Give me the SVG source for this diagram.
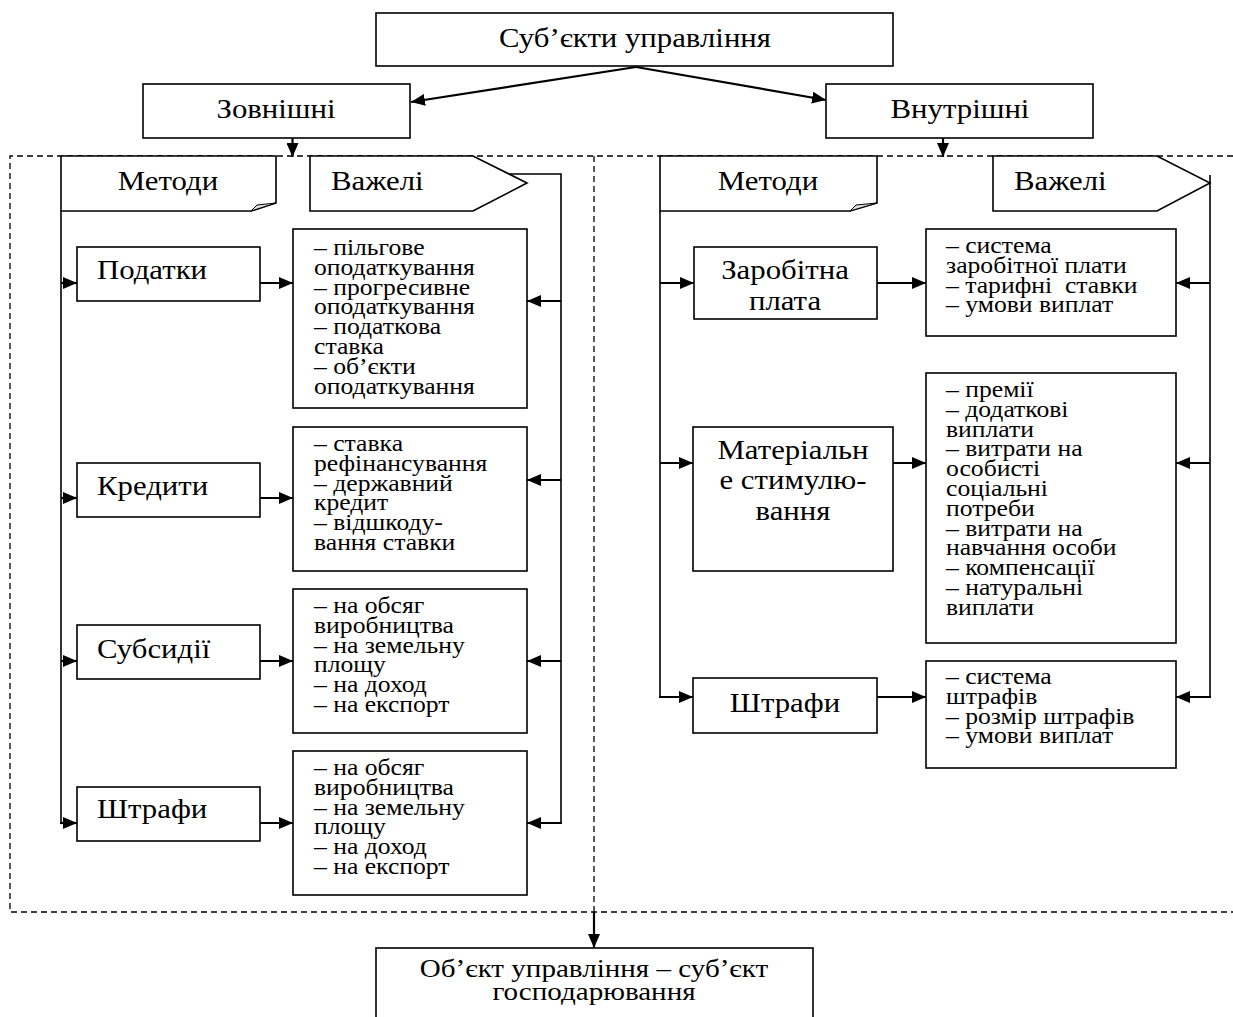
<svg xmlns="http://www.w3.org/2000/svg" width="1233" height="1017" viewBox="0 0 1233 1017">
<style>
.bg{fill:#fff}
.box{fill:#fff;stroke:#000;stroke-width:1.6}
.dash{fill:none;stroke:#000;stroke-width:1.3;stroke-dasharray:6 4}
.ln{fill:none;stroke:#000;stroke-width:1.6}
.ar{fill:none;stroke:#000;stroke-width:2.2;marker-end:url(#ah)}
text{font-family:"Liberation Serif","Times New Roman",serif;fill:#000}
.big{font-size:27px}
.sm{font-size:22.5px}
.bt{font-size:25.5px}
.c{text-anchor:middle}
</style>
<defs>
<marker id="ah" markerUnits="userSpaceOnUse" markerWidth="14" markerHeight="12" refX="14" refY="6" orient="auto">
<path d="M0,0 L14,6 L0,12 Z" fill="#000"/>
</marker>
</defs>
<rect class="bg" x="0" y="0" width="1233" height="1017"/>

<g id="frame">
<path class="dash" d="M1233,156 H10 V912 H1233"/>
<path class="dash" d="M594,156 V912"/>
</g>

<g id="top">
<rect class="box" x="376" y="13" width="517" height="53"/>
<text class="big c" transform="translate(635 47) scale(1.14 1)">Суб’єкти управління</text>
</g>
<g id="ext">
<rect class="box" x="143" y="84" width="267" height="54"/>
<text class="big c" transform="translate(276 118) scale(1.14 1)">Зовнішні</text>
</g>
<g id="int">
<rect class="box" x="826" y="84" width="267" height="54"/>
<text class="big c" transform="translate(960 118) scale(1.14 1)">Внутрішні</text>
</g>

<g id="methods-left">
<path class="box" d="M61,156 H276 V203 L251,211 H61 Z"/>
<path d="M251,211 L257,205 L276,203 Z" fill="#ddd" stroke="#000" stroke-width="1"/>
<text class="big c" transform="translate(168 190) scale(1.14 1)">Методи</text>
</g>
<g id="levers-left">
<path class="box" d="M310,156 H473 L527,183 L473,211 H310 Z"/>
<text class="big" transform="translate(331 190) scale(1.14 1)">Важелі</text>
</g>
<g id="methods-right">
<path class="box" d="M660,156 H877 V203 L850,211 H660 Z"/>
<path d="M850,211 L856,205 L877,203 Z" fill="#ddd" stroke="#000" stroke-width="1"/>
<text class="big c" transform="translate(768 190) scale(1.14 1)">Методи</text>
</g>
<g id="levers-right">
<path class="box" d="M993,156 H1157 L1210,183 L1157,211 H993 Z"/>
<text class="big" transform="translate(1014 190) scale(1.14 1)">Важелі</text>
</g>

<g id="m-podatky">
<rect class="box" x="77" y="247" width="183" height="54"/>
<text class="big" transform="translate(97 279) scale(1.14 1)">Податки</text>
</g>
<g id="m-kredyty">
<rect class="box" x="77" y="463" width="183" height="54"/>
<text class="big" transform="translate(97 495) scale(1.14 1)">Кредити</text>
</g>
<g id="m-subsydii">
<rect class="box" x="77" y="625" width="183" height="54"/>
<text class="big" transform="translate(97 658) scale(1.14 1)">Субсидії</text>
</g>
<g id="m-shtrafy-l">
<rect class="box" x="77" y="787" width="183" height="54"/>
<text class="big" transform="translate(97 818) scale(1.14 1)">Штрафи</text>
</g>

<g id="l-podatky">
<rect class="box" x="293" y="229" width="234" height="179"/>
<text class="sm" transform="translate(314 255) scale(1.14 1)"><tspan x="0" y="0">– пільгове</tspan><tspan x="0" dy="19.8">оподаткування</tspan><tspan x="0" dy="19.8">– прогресивне</tspan><tspan x="0" dy="19.8">оподаткування</tspan><tspan x="0" dy="19.8">– податкова</tspan><tspan x="0" dy="19.8">ставка</tspan><tspan x="0" dy="19.8">– об’єкти</tspan><tspan x="0" dy="19.8">оподаткування</tspan></text>
</g>
<g id="l-kredyty">
<rect class="box" x="293" y="427" width="234" height="144"/>
<text class="sm" transform="translate(314 451) scale(1.14 1)"><tspan x="0" y="0">– ставка</tspan><tspan x="0" dy="19.8">рефінансування</tspan><tspan x="0" dy="19.8">– державний</tspan><tspan x="0" dy="19.8">кредит</tspan><tspan x="0" dy="19.8">– відшкоду-</tspan><tspan x="0" dy="19.8">вання ставки</tspan></text>
</g>
<g id="l-subsydii">
<rect class="box" x="293" y="589" width="234" height="144"/>
<text class="sm" transform="translate(314 613) scale(1.14 1)"><tspan x="0" y="0">– на обсяг</tspan><tspan x="0" dy="19.8">виробництва</tspan><tspan x="0" dy="19.8">– на земельну</tspan><tspan x="0" dy="19.8">площу</tspan><tspan x="0" dy="19.8">– на доход</tspan><tspan x="0" dy="19.8">– на експорт</tspan></text>
</g>
<g id="l-shtrafy">
<rect class="box" x="293" y="751" width="234" height="144"/>
<text class="sm" transform="translate(314 775) scale(1.14 1)"><tspan x="0" y="0">– на обсяг</tspan><tspan x="0" dy="19.8">виробництва</tspan><tspan x="0" dy="19.8">– на земельну</tspan><tspan x="0" dy="19.8">площу</tspan><tspan x="0" dy="19.8">– на доход</tspan><tspan x="0" dy="19.8">– на експорт</tspan></text>
</g>

<g id="m-zarplata">
<rect class="box" x="694" y="247" width="183" height="72"/>
<text class="big c" transform="translate(785 279) scale(1.14 1)"><tspan x="0" y="0">Заробітна</tspan><tspan x="0" dy="31">плата</tspan></text>
</g>
<g id="m-material">
<rect class="box" x="693" y="427" width="200" height="144"/>
<text class="big c" transform="translate(793 459) scale(1.14 1)"><tspan x="0" y="0">Матеріальн</tspan><tspan x="0" dy="30.5">е стимулю-</tspan><tspan x="0" dy="30.5">вання</tspan></text>
</g>
<g id="m-shtrafy-r">
<rect class="box" x="693" y="678" width="184" height="55"/>
<text class="big c" transform="translate(785 712) scale(1.14 1)">Штрафи</text>
</g>

<g id="r-zarplata">
<rect class="box" x="926" y="229" width="250" height="107"/>
<text class="sm" xml:space="preserve" transform="translate(946 253) scale(1.14 1)"><tspan x="0" y="0">– система</tspan><tspan x="0" dy="19.8">заробітної плати</tspan><tspan x="0" dy="19.8">– тарифні  ставки</tspan><tspan x="0" dy="19.8">– умови виплат</tspan></text>
</g>
<g id="r-material">
<rect class="box" x="926" y="373" width="250" height="270"/>
<text class="sm" transform="translate(946 397) scale(1.14 1)"><tspan x="0" y="0">– премії</tspan><tspan x="0" dy="19.8">– додаткові</tspan><tspan x="0" dy="19.8">виплати</tspan><tspan x="0" dy="19.8">– витрати на</tspan><tspan x="0" dy="19.8">особисті</tspan><tspan x="0" dy="19.8">соціальні</tspan><tspan x="0" dy="19.8">потреби</tspan><tspan x="0" dy="19.8">– витрати на</tspan><tspan x="0" dy="19.8">навчання особи</tspan><tspan x="0" dy="19.8">– компенсації</tspan><tspan x="0" dy="19.8">– натуральні</tspan><tspan x="0" dy="19.8">виплати</tspan></text>
</g>
<g id="r-shtrafy">
<rect class="box" x="926" y="661" width="250" height="107"/>
<text class="sm" transform="translate(946 684) scale(1.14 1)"><tspan x="0" y="0">– система</tspan><tspan x="0" dy="19.8">штрафів</tspan><tspan x="0" dy="19.8">– розмір штрафів</tspan><tspan x="0" dy="19.8">– умови виплат</tspan></text>
</g>

<g id="object">
<rect class="box" x="376" y="948" width="437" height="90"/>
<text class="bt c" transform="translate(594 977) scale(1.14 1)"><tspan x="0" y="0">Об’єкт управління – суб’єкт</tspan><tspan x="0" dy="23">господарювання</tspan></text>
</g>

<g id="connectors">
<line class="ar" x1="636" y1="67" x2="411" y2="102"/>
<line class="ar" x1="636" y1="67" x2="826" y2="100"/>
<line class="ar" x1="292.5" y1="138" x2="292.5" y2="157"/>
<line class="ar" x1="943" y1="138" x2="943" y2="157"/>
<line class="ar" x1="594" y1="912" x2="594" y2="948"/>
<!-- left trunk -->
<path class="ln" d="M61,211 V823"/>
<line class="ar" x1="61" y1="283" x2="77" y2="283"/>
<line class="ar" x1="61" y1="498" x2="77" y2="498"/>
<line class="ar" x1="61" y1="661" x2="77" y2="661"/>
<line class="ar" x1="60" y1="823" x2="77" y2="823"/>
<line class="ar" x1="260" y1="283" x2="293" y2="283"/>
<line class="ar" x1="260" y1="498" x2="293" y2="498"/>
<line class="ar" x1="260" y1="661" x2="293" y2="661"/>
<line class="ar" x1="260" y1="823" x2="293" y2="823"/>
<path class="ln" d="M509,174 H561 V823"/>
<line class="ar" x1="561" y1="301" x2="527" y2="301"/>
<line class="ar" x1="561" y1="480" x2="527" y2="480"/>
<line class="ar" x1="561" y1="661" x2="527" y2="661"/>
<line class="ar" x1="562" y1="823" x2="527" y2="823"/>
<!-- right -->
<path class="ln" d="M660,211 V697"/>
<line class="ar" x1="660" y1="283" x2="694" y2="283"/>
<line class="ar" x1="660" y1="463" x2="693" y2="463"/>
<line class="ar" x1="659" y1="697" x2="693" y2="697"/>
<line class="ar" x1="877" y1="283" x2="926" y2="283"/>
<line class="ar" x1="893" y1="463" x2="926" y2="463"/>
<line class="ar" x1="877" y1="697" x2="926" y2="697"/>
<path class="ln" d="M1210,175 V697"/>
<line class="ar" x1="1210" y1="283" x2="1176" y2="283"/>
<line class="ar" x1="1210" y1="463" x2="1176" y2="463"/>
<line class="ar" x1="1211" y1="697" x2="1176" y2="697"/>
</g>
</svg>
